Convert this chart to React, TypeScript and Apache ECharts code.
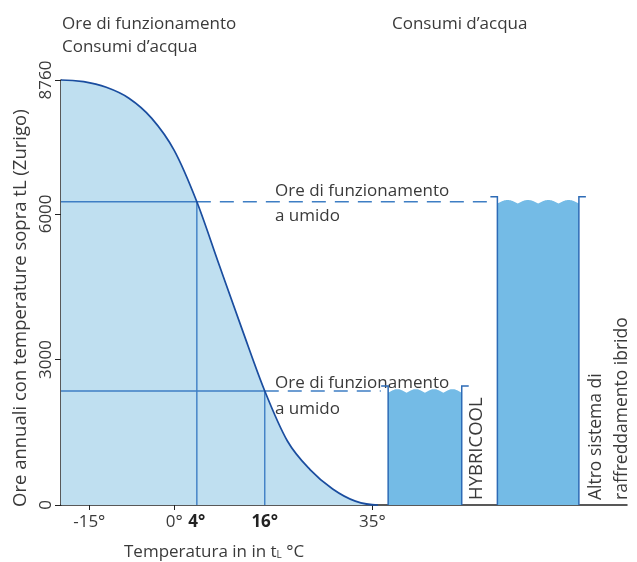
import React, { useEffect, useRef } from "react";
import * as echarts from "echarts";

// ---- data ----
const tempC = [-20, -16, -12, -8, -4, 0, 4, 8, 12, 16, 20, 24, 28, 32, 36];
const hoursAbove = [8760, 8725, 8610, 8385, 7975, 7310, 6250, 4930, 3620, 2350, 1320, 730, 330, 80, 0];
const wetTemps = [4, 16];
const wetLevels = [6250, 2350];
const wetLabels = ["6160", "2460"];
const barStart = [37.8, 57.1];
const barEnd = [50.8, 71.5];
const barLevels = [2350, 6250];
const barTargetOfWet = [1, 0]; // wet line i ends at bar index
const xTickValues = [-15, 0, 35];
const xLabelValues = [-15, 0, 4, 16, 35];
const boldXLabels = [4, 16];
const yTickValues = [0, 3000, 6000, 8760];

const FONT = "'Open Sans', Roboto, sans-serif";
const TXT = "#3a3a3a";
const LINE = "#3e7ec4";

// builds a smooth (Catmull-Rom) path string through the projected data points
function curvePath(api: any): { d: string; first: number[]; last: number[]; base: number } {
  const p = tempC.map((t, i) => api.coord([t, hoursAbove[i]]));
  const n = p.length;
  let d = `M${p[0][0]},${p[0][1]}`;
  for (let i = 0; i < n - 1; i++) {
    const p0 = p[i];
    const p1 = p[i + 1];
    const pm = i > 0 ? p[i - 1] : null;
    const pp = i + 2 < n ? p[i + 2] : null;
    const dx = (p1[0] - p0[0]) / 3;
    const c1 = pm ? [p0[0] + (p1[0] - pm[0]) / 6, p0[1] + (p1[1] - pm[1]) / 6] : [p0[0] + dx, p0[1]];
    const c2 = pp ? [p1[0] - (pp[0] - p0[0]) / 6, p1[1] - (pp[1] - p0[1]) / 6] : [p1[0] - dx, p1[1]];
    d += ` C${c1[0]},${c1[1]} ${c2[0]},${c2[1]} ${p1[0]},${p1[1]}`;
  }
  const base = api.coord([0, 0])[1];
  return { d, first: p[0], last: p[n - 1], base };
}

export default function App() {
  const ref = useRef<HTMLDivElement>(null);
  useEffect(() => {
    if (!ref.current) return;
    const chart = echarts.init(ref.current, undefined, { renderer: "svg" });

    const series: any[] = [
      {
        type: "custom",
        data: [[tempC[0], hoursAbove[0]]],
        renderItem: (params: any, api: any) => {
          const c = curvePath(api);
          const d = `${c.d} L${c.last[0]},${c.base} L${c.first[0]},${c.base} Z`;
          return { type: "path", shape: { pathData: d }, style: { fill: "#bfdff0", stroke: null } };
        },
        z: 2,
      },
      {
        type: "custom",
        data: [[tempC[0], hoursAbove[0]]],
        renderItem: (params: any, api: any) => {
          const c = curvePath(api);
          return { type: "path", shape: { pathData: c.d }, style: { fill: null, stroke: "#1a4d9f", lineWidth: 1.7 } };
        },
        z: 5,
      },
    ];
    wetTemps.forEach((t, i) => {
      const lvl = wetLevels[i];
      const b = barTargetOfWet[i];
      series.push({
        type: "line",
        data: [[-20, lvl], [t, lvl]],
        symbol: "none",
        lineStyle: { color: LINE, width: 1.4 },
        z: 3,
      });
      series.push({
        type: "line",
        data: [[t, lvl], [t, 0]],
        symbol: "none",
        lineStyle: { color: LINE, width: 1.4 },
        z: 3,
      });
      series.push({
        type: "line",
        data: [[t, lvl], [barStart[b] - 1.3, lvl]],
        symbol: "none",
        lineStyle: { color: LINE, width: 1.4, type: [14, 9] },
        z: 3,
      });
    });
    series.push({
      type: "custom",
      data: barStart.map((s, i) => [s, barEnd[i], barLevels[i]]),
      renderItem: (params: any, api: any) => {
        const x0 = api.value(0), x1 = api.value(1), lvl = api.value(2);
        const [px0, base] = api.coord([x0, 0]);
        const [px1, py] = api.coord([x1, lvl]);
        const w = px1 - px0;
        const n = 4;
        const period = w / n;
        const amp = 3.6;
        const pts: number[][] = [[px0, base]];
        const N = 80;
        for (let k = 0; k <= N; k++) {
          const x = px0 + (w * k) / N;
          const y = py + amp / 2 - amp * Math.abs(Math.sin((Math.PI * (x - px0)) / period));
          pts.push([x, y]);
        }
        pts.push([px1, base]);
        const rimY = py - 5;
        const lip = 7;
        const stroke = { stroke: "#2d6bb6", lineWidth: 1.5, fill: null };
        return {
          type: "group",
          children: [
            { type: "polygon", shape: { points: pts }, style: { fill: "#74bbe6" } },
            { type: "polyline", shape: { points: [[px0 - lip, rimY], [px0, rimY], [px0, base]] }, style: stroke },
            { type: "polyline", shape: { points: [[px1, base], [px1, rimY], [px1 + lip, rimY]] }, style: stroke },
          ],
        };
      },
      z: 4,
    });

    const txt = (x: number, y: number, text: string, extra: any = {}, size = 17) => ({
      type: "text",
      x,
      y,
      style: {
        text,
        fill: TXT,
        font: `${size}px ${FONT}`,
        textAlign: "left",
        textVerticalAlign: "middle",
        lineHeight: 24,
        ...extra,
      },
    });

    const option: any = {
      animation: false,
      grid: { left: 61, right: 10, top: 80, bottom: 57 },
      xAxis: {
        type: "value",
        min: -20,
        max: 80,
        splitLine: { show: false },
        axisLine: { lineStyle: { color: "#222", width: 1.5 } },
        axisTick: { customValues: xTickValues, length: 5, lineStyle: { color: "#222" } },
        axisLabel: {
          customValues: xLabelValues,
          margin: 7,
          color: TXT,
          fontSize: 17,
          fontFamily: FONT,
          formatter: (v: number) => (boldXLabels.includes(v) ? `{b|${v}°}` : `${v}°`),
          rich: { b: { fontWeight: "bold", fontSize: 17, fontFamily: FONT, color: "#222" } },
        },
      },
      yAxis: {
        type: "value",
        min: 0,
        max: 8760,
        splitLine: { show: false },
        axisLine: { show: true, onZero: false, lineStyle: { color: "#222", width: 1.5 } },
        axisTick: { show: true, customValues: yTickValues, length: 6, lineStyle: { color: "#222" } },
        axisLabel: {
          customValues: yTickValues,
          rotate: 90,
          margin: 8,
          color: TXT,
          fontSize: 17,
          fontFamily: FONT,
          formatter: (v: number) => String(v),
        },
      },
      series,
      graphic: [
        txt(62, 22, "Ore di funzionamento"),
        txt(62, 45, "Consumi d’acqua"),
        txt(392, 22, "Consumi d’acqua"),
        txt(67, 188, wetLabels[0]),
        txt(67, 381, wetLabels[1]),
        txt(275, 189, "Ore di funzionamento"),
        txt(275, 214, "a umido"),
        txt(275, 381, "Ore di funzionamento"),
        txt(275, 407, "a umido"),
        { ...txt(474, 500, "HYBRICOOL", {}, 18.5), rotation: Math.PI / 2 },
        { ...txt(607, 500, "Altro sistema di\nraffreddamento ibrido", { lineHeight: 26 }, 17.5), rotation: Math.PI / 2 },
        { ...txt(18, 507, "Ore annuali con temperature sopra tL (Zurigo)", {}, 18.5), rotation: Math.PI / 2 },
        {
          type: "text",
          x: 124,
          y: 550,
          style: {
            text: "Temperatura in in t{sub|L} °C",
            fill: TXT,
            font: `17px ${FONT}`,
            textAlign: "left",
            textVerticalAlign: "middle",
            rich: { sub: { fontSize: 10, fontFamily: FONT, fill: TXT, verticalAlign: "bottom", padding: [7, 0, 0, 0] } },
          },
        },
      ],
    };
    chart.setOption(option);
    return () => chart.dispose();
  }, []);
  return <div ref={ref} style={{ width: 637, height: 562, position: "fixed", left: 0, top: 0 }} />;
}
